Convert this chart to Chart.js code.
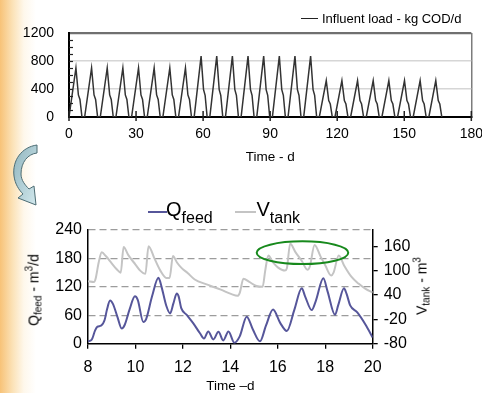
<!DOCTYPE html>
<html lang="en">
<head>
<meta charset="utf-8">
<title>Influent load and feed flow</title>
<script src="https://cdn.jsdelivr.net/npm/chart.js@4.4.1/dist/chart.umd.min.js"></script>
<style>
  html, body { margin: 0; padding: 0; background: #fff; overflow: hidden; }
  body { position: relative; width: 482px; height: 393px; font-family: 'Liberation Sans', Arial, sans-serif; color: #000; }
  .franja { position: absolute; left: 0; top: 0; width: 36px; height: 393px;
    background: linear-gradient(to right, rgba(246,184,96,0.85) 0px, rgba(249,208,138,0.6) 13px, rgba(253,234,200,0.35) 24px, rgba(255,255,255,0) 36px); }
  canvas { position: absolute; left: 0; }
  #carga { top: 0; }
  #caudal { top: 195px; }
  .nota { position: absolute; white-space: nowrap; }
  .linea { position: absolute; height: 2px; }
  .giro { position: absolute; white-space: nowrap; font-size: 14px; line-height: 16px;
    transform: translate(-50%, -50%) rotate(-90deg); }
  .sub { font-size: 10px; vertical-align: -3px; }
  .sup { font-size: 10px; vertical-align: 6px; }
</style>
</head>
<body>
<div class="franja"></div>
<canvas id="carga" width="492" height="170"></canvas>
<canvas id="caudal" width="482" height="200"></canvas>

<svg style="position:absolute;left:10px;top:142px" width="30" height="66" viewBox="0 0 30 66">
  <defs>
    <linearGradient id="flecha" x1="0" y1="0" x2="1" y2="1">
      <stop offset="0" stop-color="#8fb4bd"/>
      <stop offset="1" stop-color="#d3e9ee"/>
    </linearGradient>
  </defs>
  <path d="M27 3 C12 5 2 18 4 34 C5 42 9 48 13 52 L8 56 L26 63 L24 44 L19 47 C15 43 11 38 11 32 C11 20 18 12 27 11 Z"
        fill="url(#flecha)" stroke="#4d6c73" stroke-width="1"/>
</svg>

<!-- leyenda grafico superior -->
<div class="linea" style="left:301px;top:17.5px;width:17px;height:1.4px;background:#222"></div>
<div class="nota" style="left:322px;top:11px;font-size:13px;line-height:16px">Influent load - kg COD/d</div>

<!-- leyenda grafico inferior -->
<div class="linea" style="left:148px;top:211px;width:18.5px;background:#56569a"></div>
<div class="nota" style="left:166px;top:198px;font-size:20px;line-height:23px">Q<span style="font-size:16px;vertical-align:-6.5px">feed</span></div>
<div class="linea" style="left:235px;top:211px;width:20.5px;background:#c4c4c4"></div>
<div class="nota" style="left:256.5px;top:198px;font-size:20px;line-height:23px">V<span style="font-size:16px;vertical-align:-6.5px">tank</span></div>

<!-- titulos de ejes verticales -->
<div class="giro" style="left:34px;top:290px">Q<span class="sub">feed</span> - m<span class="sup">3</span>/d</div>
<div class="giro" style="left:422px;top:286px">V<span class="sub">tank</span> - m<span class="sup">3</span></div>

<script>
// Carga del afluente (kg COD/d) vs tiempo (d)
const diasCarga = [
  0, 3.1, 4.2, 4.9, 5.8,   7, 10.1, 11.2, 11.9, 12.8,   14, 17.1, 18.2, 18.9, 19.8,
  21, 24.1, 25.2, 25.9, 26.8,   28, 31.1, 32.2, 32.9, 33.8,   35, 38.1, 39.2, 39.9, 40.8,
  42, 45.1, 46.2, 46.9, 47.8,   49, 52.1, 53.2, 53.9, 54.8,   56, 59.1, 60.2, 60.9, 61.8,
  63, 66.1, 67.2, 67.9, 68.8,   70, 73.1, 74.2, 74.9, 75.8,   77, 80.1, 81.2, 81.9, 82.8,
  84, 87.1, 88.2, 88.9, 89.8,   91, 94.1, 95.2, 95.9, 96.8,   98, 101.1, 102.2, 102.9, 103.8,
  105, 108.1, 109.2, 109.9, 110.8,   112, 115.1, 116.2, 116.9, 117.8,   119, 122.1, 123.2, 123.9, 124.8,
  126, 129.1, 130.2, 130.9, 131.8,   133, 136.1, 137.2, 137.9, 138.8,   140, 143.1, 144.2, 144.9, 145.8,
  147, 150.1, 151.2, 151.9, 152.8,   154, 157.1, 158.2, 158.9, 159.8,   161, 164.1, 165.2, 165.9, 166.8
];
const cargaAfluente = [
  0, 700, 315, 250, 0,   0, 700, 315, 250, 0,   0, 700, 315, 250, 0,
  0, 700, 315, 250, 0,   0, 700, 315, 250, 0,   0, 700, 315, 250, 0,
  0, 700, 315, 250, 0,   0, 700, 315, 250, 0,   0, 870, 390, 310, 0,
  0, 870, 390, 310, 0,   0, 870, 390, 310, 0,   0, 870, 390, 310, 0,
  0, 870, 390, 310, 0,   0, 870, 390, 310, 0,   0, 870, 390, 310, 0,
  0, 870, 390, 310, 0,   0, 520, 235, 185, 0,   0, 520, 235, 185, 0,
  0, 520, 235, 185, 0,   0, 520, 235, 185, 0,   0, 520, 235, 185, 0,
  0, 520, 235, 185, 0,   0, 520, 235, 185, 0,   0, 520, 235, 185, 0
];

// Caudal de alimentacion Qfeed (m3/d)
const tiempoQ = [8.0, 8.15, 8.3, 8.4, 8.55, 8.7, 8.8, 8.93, 9.05, 9.25, 9.42, 9.55, 9.75, 9.98, 10.1,
  10.33, 10.45, 10.7, 10.97, 11.1, 11.3, 11.46, 11.6, 11.74, 11.82, 11.93, 12.16, 12.44, 12.72, 12.89,
  13.07, 13.28, 13.5, 13.7, 13.92, 14.17, 14.4, 14.69, 14.95, 15.25, 15.5, 15.8, 16.1, 16.38, 16.7,
  17.01, 17.15, 17.43, 17.6, 17.92, 18.1, 18.41, 18.55, 18.79, 18.9, 19.05, 19.35, 19.7, 20.0];
const qFeed = [5, 8, 28, 36, 38, 50, 72, 91, 84, 55, 32, 40, 72, 100, 92,
  46, 52, 100, 139, 120, 80, 64, 85, 106, 100, 75, 61, 43, 22, 11,
  26, 9, 25, 7, 26, 2, 16, 57, 30, 5, 38, 72, 44, 27, 72,
  117, 100, 71, 90, 138, 110, 61, 82, 117, 105, 81, 66, 40, 13];

// Volumen del tanque Vtank (m3), eje derecho
const tiempoV = [8.0, 8.25, 8.32, 8.45, 8.58, 8.75, 9.0, 9.2, 9.38, 9.5, 9.7, 10.0, 10.2, 10.42, 10.55,
  10.8, 11.05, 11.3, 11.44, 11.58, 11.75, 11.95, 12.2, 12.5, 13.0, 13.6, 14.05, 14.3, 14.4, 14.55,
  14.8, 15.1, 15.36, 15.47, 15.6, 15.8, 16.0, 16.3, 16.38, 16.52, 16.75, 17.0, 17.25, 17.35, 17.55,
  17.8, 18.0, 18.25, 18.35, 18.57, 18.8, 19.1, 19.4, 19.7, 20.0];
const vTank = [74, 72, 80, 120, 145, 136, 118, 104, 95, 158, 138, 115, 100, 92, 160,
  130, 100, 82, 82, 136, 120, 106, 94, 78, 66, 53, 42, 38, 46, 80,
  72, 62, 60, 100, 137, 120, 108, 100, 105, 166, 145, 125, 102, 110, 163,
  135, 113, 88, 95, 137, 112, 85, 68, 55, 46];

const ticksDerecha = [-80, -20, 40, 100, 160];

// elipse verde que marca los picos (dia, m3/d)
const elipse = { x: 17.04, y: 192, rx: 1.93, ry: 24 };

Chart.defaults.font.family = "'Liberation Sans', Arial, sans-serif";
Chart.defaults.color = '#000';

function puntos(xs, ys){
    return xs.map((x, i) => ({ x: x, y: ys[i] }));
}

// marcas menores y marcas cruzadas del grafico superior
const marcasCarga = {
    id: 'marcasCarga',
    afterDraw(chart){
        const ctx = chart.ctx;
        const x = chart.scales.x, y = chart.scales.y;
        ctx.save();
        ctx.strokeStyle = '#222';
        ctx.lineWidth = 1.2;
        for (let v = 100; v < 1200; v += 100) {
            const py = Math.round(y.getPixelForValue(v)) + 0.5;
            ctx.beginPath();
            ctx.moveTo(x.left, py);
            ctx.lineTo(x.left + 4, py);
            ctx.stroke();
        }
        ctx.lineWidth = 1.5;
        x.ticks.forEach(t => {
            const px = x.getPixelForValue(t.value);
            ctx.beginPath();
            ctx.moveTo(px, y.bottom - 6);
            ctx.lineTo(px, y.bottom + 4);
            ctx.stroke();
        });
        ctx.restore();
    }
};

const elipseVerde = {
    id: 'elipseVerde',
    afterDatasetsDraw(chart){
        const ctx = chart.ctx;
        const x = chart.scales.x, y = chart.scales.y;
        const cx = x.getPixelForValue(elipse.x);
        const cy = y.getPixelForValue(elipse.y);
        const rx = Math.abs(x.getPixelForValue(elipse.x + elipse.rx) - cx);
        const ry = Math.abs(y.getPixelForValue(elipse.y + elipse.ry) - cy);
        ctx.save();
        ctx.strokeStyle = '#17891c';
        ctx.lineWidth = 2;
        ctx.beginPath();
        ctx.ellipse(cx, cy, rx, ry, 0, 0, Math.PI * 2);
        ctx.stroke();
        ctx.restore();
    }
};

new Chart(document.getElementById('carga'), {
    type: 'line',
    data: {
        datasets: [{
            label: 'Influent load - kg COD/d',
            data: puntos(diasCarga, cargaAfluente),
            borderColor: '#333',
            borderWidth: 1.5,
            pointRadius: 0,
            tension: 0
        }]
    },
    options: {
        responsive: false,
        animation: false,
        layout: { padding: { top: 33, right: 20, left: 0, bottom: 0 } },
        plugins: { legend: { display: false }, tooltip: { enabled: false } },
        scales: {
            x: {
                type: 'linear', min: 0, max: 180,
                ticks: { stepSize: 30, padding: 9, font: { size: 14 }, callback: v => String(v) },
                grid: {
                    drawTicks: false,
                    lineWidth: 1.5,
                    color: c => c.tick && c.tick.value === 180 ? '#7c7c7c' : 'rgba(0,0,0,0)'
                },
                border: { color: '#000', width: 2 },
                title: { display: true, text: 'Time - d', font: { size: 13.5 }, padding: { top: 0, bottom: 5 } },
                afterFit: s => { s.height = 53; }
            },
            y: {
                min: 0, max: 1200,
                ticks: { stepSize: 400, padding: 15, font: { size: 14 }, callback: v => String(v) },
                grid: {
                    drawTicks: false,
                    color: c => c.tick.value === 1200 ? '#707070' : (c.tick.value === 0 ? 'rgba(0,0,0,0)' : '#d6d6d6'),
                    lineWidth: c => c.tick.value === 1200 ? 2.2 : 1.5
                },
                border: { color: '#000', width: 2 },
                afterFit: s => { s.width = 69; }
            }
        }
    },
    plugins: [marcasCarga]
});

new Chart(document.getElementById('caudal'), {
    type: 'line',
    data: {
        datasets: [{
            label: 'Vtank',
            data: puntos(tiempoV, vTank),
            yAxisID: 'y2',
            borderColor: '#c4c4c4',
            borderWidth: 2,
            pointRadius: 0,
            cubicInterpolationMode: 'monotone'
        }, {
            label: 'Qfeed',
            data: puntos(tiempoQ, qFeed),
            yAxisID: 'y',
            borderColor: '#56569a',
            borderWidth: 2,
            pointRadius: 0,
            cubicInterpolationMode: 'monotone'
        }]
    },
    options: {
        responsive: false,
        animation: false,
        layout: { padding: { top: 35, right: 0, left: 0, bottom: 0 } },
        plugins: { legend: { display: false }, tooltip: { enabled: false } },
        scales: {
            x: {
                type: 'linear', min: 8, max: 20,
                ticks: { stepSize: 2, padding: 9, font: { size: 16 } },
                grid: { drawOnChartArea: false, tickLength: 5, color: '#000', lineWidth: 1.3 },
                border: { color: '#000', width: 1.5 },
                title: { display: true, text: 'Time –d', font: { size: 13.5 }, padding: { top: 0, bottom: 1 } },
                afterFit: s => { s.height = 51.3; }
            },
            y: {
                position: 'left',
                min: 0, max: 240,
                ticks: { stepSize: 60, padding: 6, font: { size: 16 } },
                grid: {
                    drawTicks: false,
                    color: c => c.tick.value === 0 ? 'rgba(0,0,0,0)' : '#9c9c9c',
                    lineWidth: 1.3
                },
                border: { color: '#000', width: 1.5, dash: [7, 4] },
                afterFit: s => { s.width = 88; }
            },
            y2: {
                position: 'right',
                min: -80, max: 200,
                afterBuildTicks: s => { s.ticks = ticksDerecha.map(v => ({ value: v })); },
                ticks: { padding: 6, font: { size: 16 } },
                grid: { drawOnChartArea: false, tickLength: 5, color: '#000', lineWidth: 1.3 },
                border: { color: '#000', width: 1.5 },
                afterFit: s => { s.width = 109.3; }
            }
        }
    },
    plugins: [elipseVerde]
});
</script>
</body>
</html>
